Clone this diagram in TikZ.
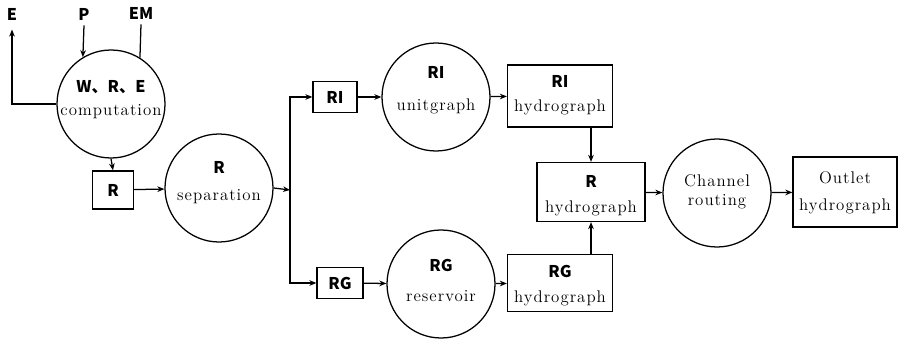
\documentclass[tikz,border=0pt]{standalone}
\usepackage{fontspec}
\newfontfamily\cjk{Noto Sans CJK JP}
\newfontfamily\spaced[LetterSpace=6]{Latin Modern Roman}
\usetikzlibrary{arrows.meta,positioning,calc}
\newlength\pxu
\setlength\pxu{0.025cm}

\begin{document}
\begin{tikzpicture}[
    x=\pxu, y=-\pxu,
    line width=0.9pt,
    >={Stealth[length=5pt,width=4pt]},
    proc/.style={circle, draw, minimum size=108\pxu, inner sep=0pt, align=center},
    data/.style={rectangle, draw, inner sep=0pt, align=center},
    tag/.style={font=\cjk\bfseries\fontsize{11.5}{13}\selectfont},
    word/.style={font=\spaced\fontsize{12}{14}\selectfont}
]
    \useasboundingbox (0,0) rectangle (901,340);

    \node[proc] (wre) at (111,104) {};
    \node[tag] at (111,87) {W、R、E};
    \node[word] at (111,112) {computation};

    \node[tag] (e) at (12,14) {E};
    \node[tag] (p) at (84,14) {P};
    \node[tag] (em) at (141,13) {EM};

    \node[data, minimum width=41\pxu, minimum height=38\pxu, tag] (r) at (113,190) {R};

    \node[proc] (sep) at (219,188) {};
    \node[tag] at (219,167) {R};
    \node[word] at (219,197) {separation};

    \coordinate (split) at (290,190);

    \node[data, minimum width=44\pxu, minimum height=31\pxu, tag] (ri) at (335,97) {RI};
    \node[data, minimum width=46\pxu, minimum height=31\pxu, tag] (rg) at (340,283) {RG};

    \node[proc] (unit) at (436,97) {};
    \node[tag] at (436,72) {RI};
    \node[word] at (436,106) {unitgraph};

    \node[proc] (res) at (441,284) {};
    \node[tag] at (441,265) {RG};
    \node[word] at (441,296) {reservoir};

    \node[data, minimum width=105\pxu, minimum height=62\pxu] (rih) at (560,96) {};
    \node[tag] at (560,81) {RI};
    \node[word] at (560,107) {hydrograph};

    \node[data, minimum width=105\pxu, minimum height=57\pxu] (rgh) at (560,283) {};
    \node[tag] at (560,271) {RG};
    \node[word] at (560,298) {hydrograph};

    \node[data, minimum width=108\pxu, minimum height=59\pxu] (rh) at (591,192) {};
    \node[tag] at (591,181) {R};
    \node[word] at (591,208) {hydrograph};

    \node[proc] (chan) at (717,193) {};
    \node[word] at (717,181) {Channel};
    \node[word] at (717,202) {routing};

    \node[data, minimum width=104\pxu, minimum height=70\pxu] (out) at (845,192) {};
    \node[word] at (845,178) {Outlet};
    \node[word] at (845,206) {hydrograph};

    \draw[->] (wre.west) -| ([yshift=-3pt]e.south);
    \draw[->] (p.south) -- (wre.121);
    \draw (em.south) -- (wre.58);
    \draw[->] (wre.south) -- (r.north);
    \draw[->] (r) -- (sep);
    \draw[->] (sep.east) -- (split);
    \draw[->] (split) |- (ri);
    \draw[->] (split) |- (rg);
    \draw[->] (ri) -- (unit);
    \draw[->] (unit) -- (rih);
    \draw[->] (rg) -- (res);
    \draw[->] (res) -- (rgh);
    \draw[->] (rih.south -| rh.north) -- (rh.north);
    \draw[->] (rgh.north -| rh.south) -- (rh.south);
    \draw[->] (rh) -- (chan);
    \draw[->] (chan) -- (out);
\end{tikzpicture}
\end{document}
